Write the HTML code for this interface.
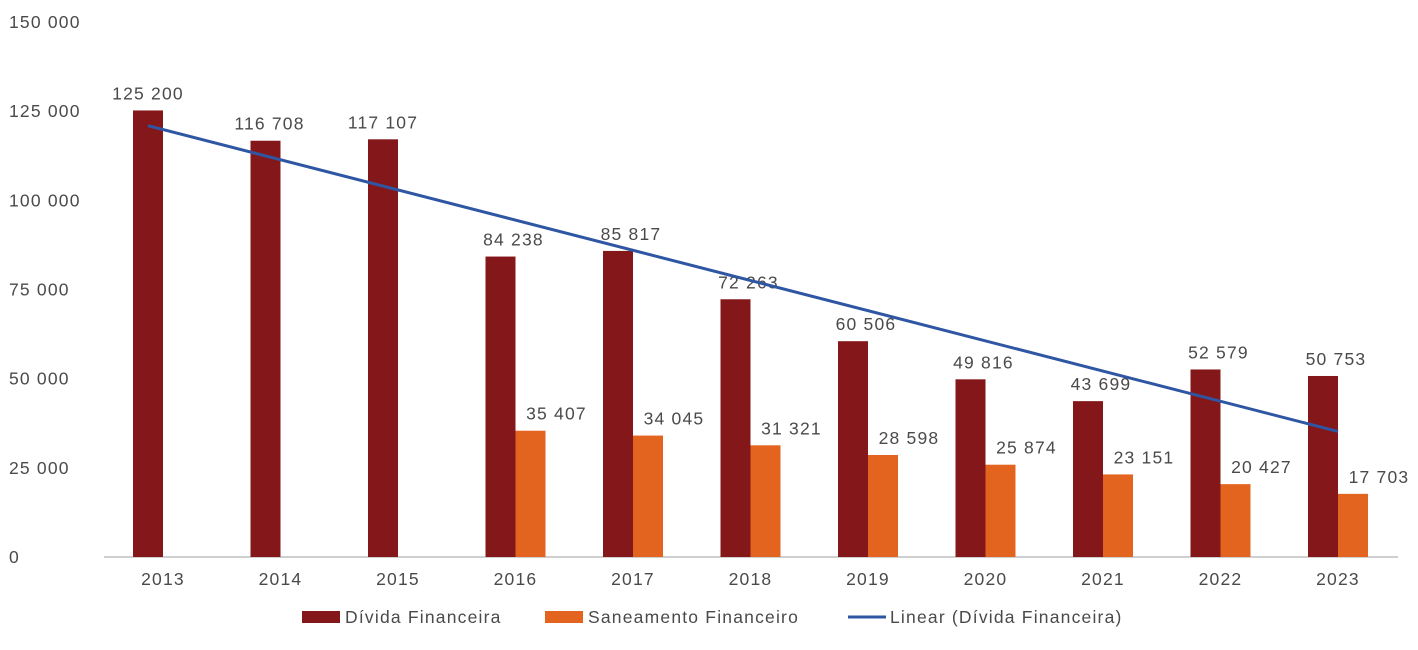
<!DOCTYPE html>
<html><head><meta charset="utf-8"><style>
body{margin:0;background:#fff;}
svg text{font-family:"Liberation Sans",sans-serif;fill:#4a4a4a;font-size:17.5px;letter-spacing:1.2px;}
</style></head><body>
<svg id="chart" width="1418" height="645" xmlns="http://www.w3.org/2000/svg"></svg>
<script>
const categories=["2013","2014","2015","2016","2017","2018","2019","2020","2021","2022","2023"];
const dividaValues=[125200,116708,117107,84238,85817,72263,60506,49816,43699,52579,50753];
const saneamentoValues=[null,null,null,35407,34045,31321,28598,25874,23151,20427,17703];
const yTicks=[0,25000,50000,75000,100000,125000,150000];
const NS="http://www.w3.org/2000/svg";
const svg=document.getElementById('chart');
const y0=557,yTop=22,yMax=150000;
const y=v=>y0-(v/yMax)*(y0-yTop);
const x=i=>163+i*117.5;
const fmt=v=>String(v).replace(/\B(?=(\d{3})+(?!\d))/g,' ');
function mk(t,a,p){const e=document.createElementNS(NS,t);for(const k in a)e.setAttribute(k,a[k]);(p||svg).appendChild(e);return e;}
yTicks.forEach(v=>{const t=mk('text',{x:9,y:y(v)+6});t.textContent=fmt(v);

});
const ax=mk('line',{x1:104,x2:1398,y1:y0,y2:y0,stroke:'#bfbfbf','stroke-width':1.5});


categories.forEach((c,i)=>{
 const t=mk('text',{x:x(i),y:585,'text-anchor':'middle'});t.textContent=c;
 
 
 const d=dividaValues[i];
 const s=saneamentoValues[i];
 const b=mk('rect',{x:x(i)-30,y:y(d),width:30,height:y0-y(d),fill:'#841719'});
 
 
 const lx=s==null?x(i)-15+(i==1?4:0):x(i)-2;
 const l=mk('text',{x:lx,y:y(d)-11,'text-anchor':'middle'});l.textContent=fmt(d);
 
 
 if(s!=null){
  const b2=mk('rect',{x:x(i),y:y(s),width:30,height:y0-y(s),fill:'#e3641f'});
  
  
  const l2=mk('text',{x:x(i)+41,y:y(s)-11,'text-anchor':'middle'});l2.textContent=fmt(s);
  
  
 }
});
const n=dividaValues.length;let sx=0,sy=0,sxy=0,sxx=0;
dividaValues.forEach((v,i)=>{sx+=i;sy+=v;sxy+=i*v;sxx+=i*i;});
const slope=(n*sxy-sx*sy)/(n*sxx-sx*sx),inter=(sy-slope*sx)/n;
const tl=mk('line',{x1:x(0)-15,y1:y(inter),x2:x(n-1),y2:y(inter+slope*(n-1)),stroke:'#2f56a3','stroke-width':3});


const lg=mk('g',{});


const r1=mk('rect',{x:302,y:611,width:38,height:12,fill:'#841719'},lg);


const t1=mk('text',{x:345,y:623},lg);t1.textContent='Dívida Financeira';


const r2=mk('rect',{x:545,y:611,width:38,height:12,fill:'#e3641f'},lg);


const t2=mk('text',{x:588,y:623},lg);t2.textContent='Saneamento Financeiro';


const r3=mk('line',{x1:848,x2:886,y1:617,y2:617,stroke:'#2f56a3','stroke-width':3},lg);


const t3=mk('text',{x:890,y:623},lg);t3.textContent='Linear (Dívida Financeira)';


</script>
</body></html>
